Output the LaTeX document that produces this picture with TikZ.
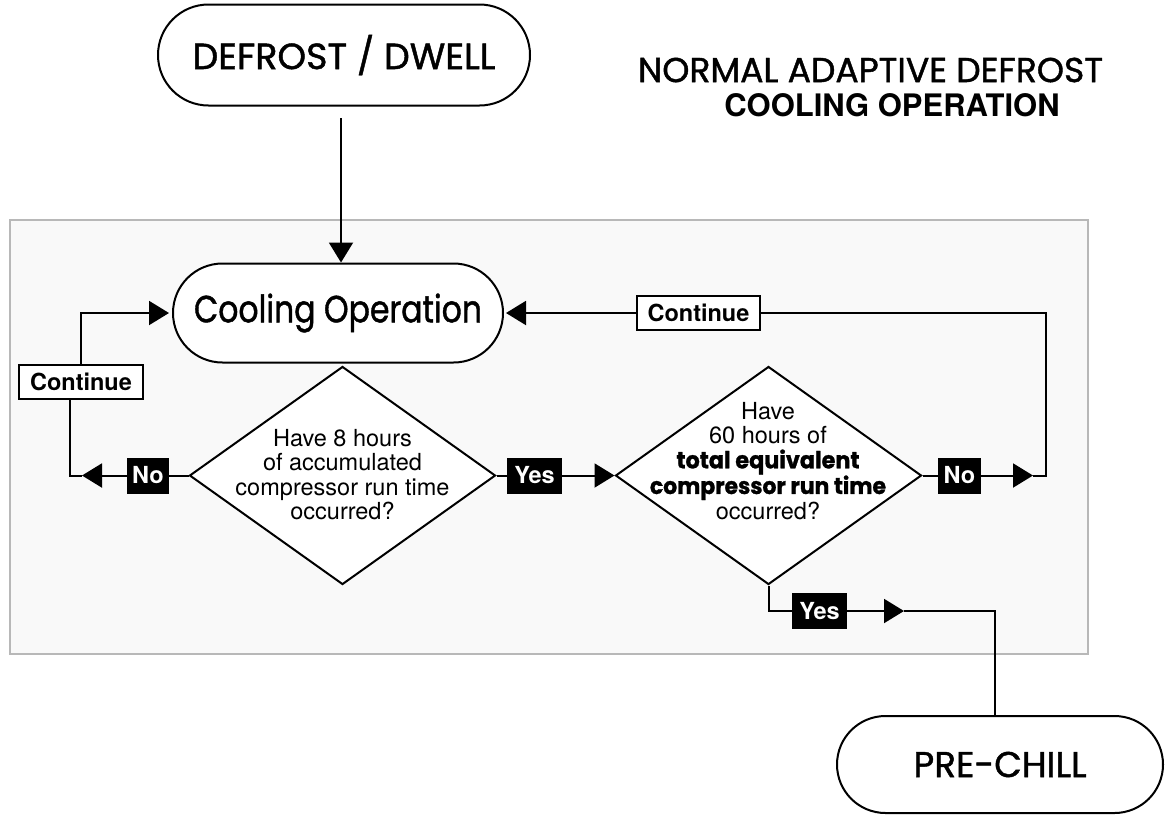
\documentclass[tikz,border=0pt]{standalone}
\usepackage{fontspec}
\setmainfont{TeX Gyre Heros}
\newfontfamily\comic{Poppins}[FakeBold=1.2]
\usetikzlibrary{shapes.geometric,shapes.misc,arrows.meta}
\tikzset{
  ln/.style={line width=2pt, draw=black},
  arr/.style={ln, -{Triangle[length=20pt,width=24pt]}},
  stadium/.style={rounded rectangle, ln, fill=white, inner sep=0pt},
  dia/.style={diamond, ln, fill=white, inner sep=0pt, minimum width=306pt, minimum height=218pt},
  qtext/.style={align=center, inner sep=0pt, font=\fontsize{23.5}{24.5}\selectfont},
  lblbox/.style={draw=black, line width=1.3pt, fill=white, inner sep=0pt, minimum width=124pt, minimum height=34pt, font=\fontsize{23.5}{26}\selectfont\bfseries},
  blkbox/.style={fill=black, text=white, inner sep=0pt, minimum height=36pt, font=\fontsize{23.5}{26}\selectfont\bfseries},
}
\begin{document}
\begin{tikzpicture}[x=1pt,y=-1pt]
\useasboundingbox (0,0) rectangle (1165,815);
% panel
\draw[draw=black!28, fill=black!2.5, line width=1.5pt] (10,220) rectangle (1088,654);
% title
\node (t1) at (870.5,70) {\resizebox{465pt}{!}{\comic NORMAL ADAPTIVE DEFROST}};
\node (t2) at (892,105) {\fontsize{31}{34}\selectfont\bfseries COOLING OPERATION};
% terminals
\node[stadium, minimum width=372pt, minimum height=101pt] (def) at (344,55) {\resizebox{303pt}{!}{\comic DEFROST / DWELL}};
\node[stadium, minimum width=330pt, minimum height=99pt] (cool) at (338,313) {\scalebox{1}[1.2]{\resizebox{288pt}{!}{\comic Cooling Operation}}};
\node[stadium, minimum width=326pt, minimum height=97pt] (pre) at (1000,764.5) {\resizebox{173pt}{!}{\comic PRE-CHILL}};
% decisions
\node[dia] (d1) at (342.5,475.5) {};
\node[qtext] (q1) at (342.5,474.5) {Have 8 hours\\of accumulated\\compressor run time\\occurred?};
\node[dia] (d2) at (768.5,475.5) {};
\node[qtext] (q2) at (768,461) {Have\\60 hours of\\\scalebox{1}[1.05]{\resizebox{183pt}{!}{\comic\bfseries total equivalent}}\\\scalebox{1}[1.05]{\resizebox{236pt}{!}{\comic\bfseries compressor run time}}\\[1pt]occurred?};
% labels
\node[lblbox] (c1) at (81,382) {Continue};
\node[lblbox, minimum width=123pt] (c2) at (698.5,313) {Continue};
\node[blkbox, minimum width=42pt] (n1) at (148,475.5) {No};
\node[blkbox, minimum width=55pt] (y1) at (534.5,475.5) {Yes};
\node[blkbox, minimum width=43pt] (n2) at (959.5,475.5) {No};
\node[blkbox, minimum width=55pt] (y2) at (819.5,611) {Yes};
% coordinates
\coordinate (defout) at (341,118);
\coordinate (tipL) at (82,475.5);
\coordinate (cornL) at (70,475.5);
\coordinate (tipR) at (1033,475.5);
\coordinate (cornR) at (1046,475.5);
\coordinate (cornRt) at (1046,313);
\coordinate (tipB) at (904,611);
\coordinate (cornB) at (995,611);
% connectors
\draw[arr] (defout) -- (defout |- cool.north);
\draw[ln] (d1.west) -- (n1.east);
\draw[arr] (n1.west) -- (tipL);
\draw[ln] (tipL) -- (cornL) -- (cornL |- c1.south);
\draw[arr] (c1.north) |- ([xshift=-3pt]cool.west);
\draw[ln] (d1.east) -- (y1.west);
\draw[arr] (y1.east) -- (d2.west);
\draw[ln] (d2.east) -- (n2.west);
\draw[arr] (n2.east) -- (tipR);
\draw[ln] (tipR) -- (cornR) -- (cornRt) -- (c2.east);
\draw[arr] (c2.west) -- ([xshift=2pt]cool.east);
\draw[ln] (d2.south) |- (y2.west);
\draw[arr] (y2.east) -- (tipB);
\draw[ln] (tipB) -- (cornB) -- (cornB |- pre.north);
\end{tikzpicture}
\end{document}
